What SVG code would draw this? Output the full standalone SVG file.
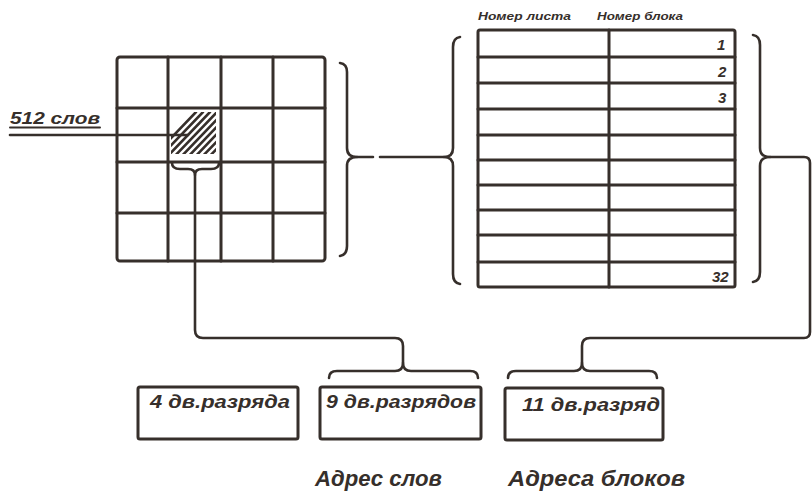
<svg xmlns="http://www.w3.org/2000/svg" width="812" height="494" viewBox="0 0 812 494">
  <style>
    .ink { fill: none; stroke: #362f2b; stroke-linecap: round; stroke-linejoin: round; }
    .thick { stroke-width: 3; }
    .mid { stroke-width: 2.6; }
    .hatch { stroke-width: 2.6; }
    .hand { fill: #362f2b; font-family: "Liberation Sans", "DejaVu Sans", sans-serif; font-weight: bold; font-style: italic; }
  </style>
  <defs>
    <clipPath id="cellClip">
      <rect x="171" y="112" width="45" height="42"/>
    </clipPath>
  </defs>

  <rect x="0" y="0" width="812" height="494" fill="#ffffff"/>

  <!-- 4x4 page grid with the selected (hatched) block -->
  <g id="page-grid">
    <rect class="ink thick" x="117" y="57" width="208" height="204" rx="3"/>
    <path class="ink thick" d="M168,57 V261 M221,57 V261 M273,57 V261 M117,108 H325 M117,162 H325 M117,213 H325"/>
    <g clip-path="url(#cellClip)">
      <path class="ink hatch" d="M150,160 L196,112 M157,160 L203,112 M164,160 L210,112 M171,160 L217,112 M178,160 L224,112 M185,160 L231,112 M192,160 L238,112 M199,160 L245,112 M206,160 L252,112"/>
    </g>
  </g>

  <!-- label for the block size -->
  <g id="label-512">
    <text class="hand" x="10" y="124" font-size="16" textLength="90" lengthAdjust="spacingAndGlyphs">512 слов</text>
    <path class="ink" stroke-width="2" d="M10,127.5 H100"/>
    <path class="ink mid" d="M10,135 H188"/>
  </g>

  <!-- block table -->
  <g id="block-table">
    <text class="hand" x="478" y="20" font-size="11" textLength="93" lengthAdjust="spacingAndGlyphs">Номер листа</text>
    <text class="hand" x="597" y="20" font-size="11" textLength="86" lengthAdjust="spacingAndGlyphs">Номер блока</text>
    <rect class="ink thick" x="478" y="30" width="257" height="257" rx="2"/>
    <path class="ink thick" d="M609,30 V287 M478,57 H735 M478,83 H735 M478,109 H735 M478,135 H735 M478,160 H735 M478,185 H735 M478,210 H735 M478,235 H735 M478,262 H735"/>
    <text class="hand" x="717" y="50" font-size="15">1</text>
    <text class="hand" x="718" y="77" font-size="15">2</text>
    <text class="hand" x="718" y="103" font-size="15">3</text>
    <text class="hand" x="712" y="282" font-size="15">32</text>
  </g>

  <!-- address fields -->
  <g id="field-page">
    <rect class="ink thick" x="138" y="387" width="160" height="52" rx="2"/>
    <text class="hand" x="150" y="408" font-size="18" textLength="140" lengthAdjust="spacingAndGlyphs">4 дв.разряда</text>
  </g>
  <g id="field-word">
    <rect class="ink thick" x="320" y="387" width="161" height="52" rx="2"/>
    <text class="hand" x="326" y="408" font-size="18" textLength="150" lengthAdjust="spacingAndGlyphs">9 дв.разрядов</text>
  </g>
  <g id="field-block">
    <rect class="ink thick" x="505" y="388" width="158" height="52" rx="2"/>
    <text class="hand" x="522" y="411" font-size="18" textLength="138" lengthAdjust="spacingAndGlyphs">11 дв.разряд</text>
  </g>

  <g id="caption-word">
    <text class="hand" x="315" y="486" font-size="22" textLength="127" lengthAdjust="spacingAndGlyphs">Адрес слов</text>
  </g>
  <g id="caption-block">
    <text class="hand" x="508" y="486" font-size="22" textLength="177" lengthAdjust="spacingAndGlyphs">Адреса блоков</text>
  </g>

  <!-- braces and connecting lines -->
  <g id="connectors">
    <!-- small brace under the hatched block, lead down to the word field -->
    <path class="ink mid" d="M172,163 Q172,169 180,169 L188,169 Q195,169 195,175 Q195,169 202,169 L211,169 Q219,169 219,163"/>
    <path class="ink mid" d="M195,175 V330 Q195,338 203,338 H395 Q403,338 403,346 V363"/>
    <path class="ink mid" d="M329,378 Q329,371 337,371 L395,371 Q403,371 403,363 Q403,371 411,371 L470,371 Q478,371 478,378"/>

    <!-- grid brace linked to table brace -->
    <path class="ink mid" d="M340,63 Q347,64 347,72 V148 Q347,157 357,157 Q347,157 347,166 V246 Q347,255 340,256"/>
    <path class="ink mid" d="M357,157 H373 M380,157 H444"/>
    <path class="ink mid" d="M460,37 Q453,38 453,47 V148 Q453,157 444,157 Q453,157 453,166 V274 Q453,283 460,284"/>

    <!-- table right brace, lead down to the block field -->
    <path class="ink mid" d="M753,35 Q760,36 760,45 V148 Q760,157 770,157 Q760,157 760,166 V272 Q760,281 753,282"/>
    <path class="ink mid" d="M770,157 H804 Q810,157 810,163 V332 Q810,338 804,338 H590 Q582,338 582,346 V363"/>
    <path class="ink mid" d="M508,378 Q508,371 516,371 L574,371 Q582,371 582,363 Q582,371 590,371 L649,371 Q657,371 657,378"/>
  </g>
</svg>
